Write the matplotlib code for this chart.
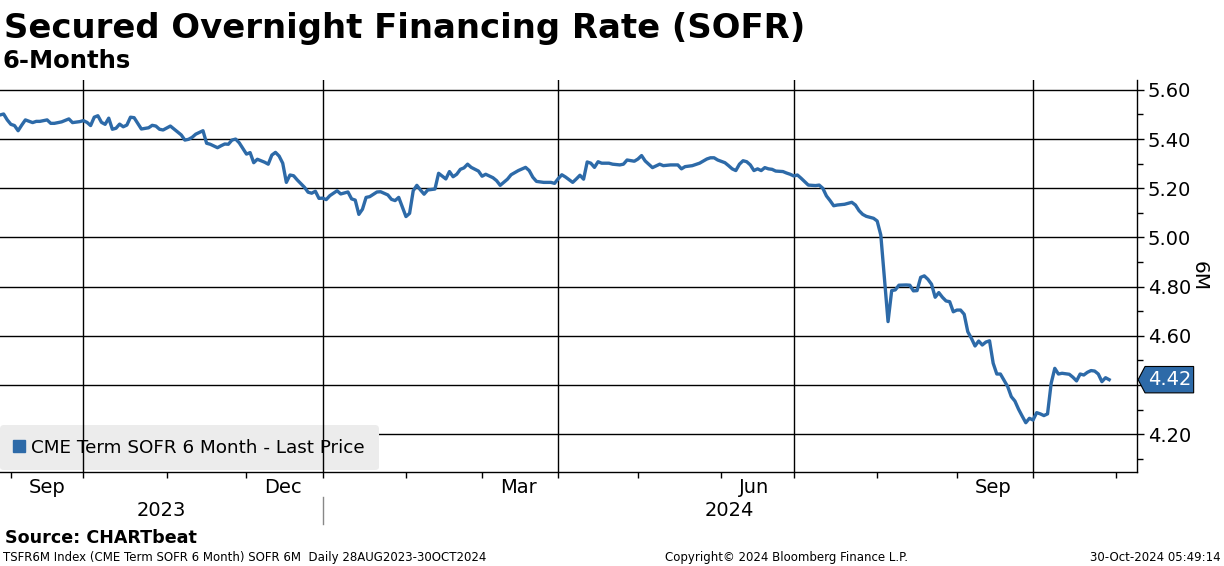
import numpy as np
import matplotlib
matplotlib.use("Agg")
import matplotlib.pyplot as plt
from matplotlib import transforms
from matplotlib.patches import Polygon
from matplotlib.lines import Line2D

# ---------------- data ----------------
dates = [
    "2023-08-28", "2023-08-29", "2023-08-30", "2023-08-31", "2023-09-01",
    "2023-09-04", "2023-09-05", "2023-09-06", "2023-09-07", "2023-09-11",
    "2023-09-12", "2023-09-13", "2023-09-15", "2023-09-18", "2023-09-19",
    "2023-09-21", "2023-09-25", "2023-09-26", "2023-09-28", "2023-09-29",
    "2023-10-02", "2023-10-03", "2023-10-04", "2023-10-05", "2023-10-06",
    "2023-10-09", "2023-10-10", "2023-10-11", "2023-10-12", "2023-10-13",
    "2023-10-16", "2023-10-17", "2023-10-18", "2023-10-19", "2023-10-20",
    "2023-10-23", "2023-10-25", "2023-10-26", "2023-10-27", "2023-10-30",
    "2023-10-31",
    "2023-11-02", "2023-11-03", "2023-11-07", "2023-11-08", "2023-11-09",
    "2023-11-10", "2023-11-13", "2023-11-15", "2023-11-16", "2023-11-17",
    "2023-11-21", "2023-11-22", "2023-11-23", "2023-11-24", "2023-11-27",
    "2023-11-28", "2023-11-29",
    "2023-12-01", "2023-12-04", "2023-12-05", "2023-12-06", "2023-12-08",
    "2023-12-11", "2023-12-12", "2023-12-13", "2023-12-14", "2023-12-15",
    "2023-12-18", "2023-12-19", "2023-12-20", "2023-12-21", "2023-12-25",
    "2023-12-26", "2023-12-27", "2023-12-28", "2023-12-29",
    "2024-01-01", "2024-01-02", "2024-01-03", "2024-01-05", "2024-01-08",
    "2024-01-10", "2024-01-11", "2024-01-12", "2024-01-15", "2024-01-16",
    "2024-01-17", "2024-01-18", "2024-01-22", "2024-01-23", "2024-01-25",
    "2024-01-26", "2024-01-29", "2024-01-30",
    "2024-02-01", "2024-02-02", "2024-02-05", "2024-02-06", "2024-02-07",
    "2024-02-08", "2024-02-09", "2024-02-13", "2024-02-14", "2024-02-16",
    "2024-02-19", "2024-02-20", "2024-02-21", "2024-02-22", "2024-02-23",
    "2024-02-26", "2024-02-27", "2024-02-29",
    "2024-03-01", "2024-03-04", "2024-03-06", "2024-03-07", "2024-03-08",
    "2024-03-12", "2024-03-13", "2024-03-15", "2024-03-19", "2024-03-20",
    "2024-03-21", "2024-03-22", "2024-03-26", "2024-03-28", "2024-03-29",
    "2024-04-01", "2024-04-02", "2024-04-03", "2024-04-05", "2024-04-08",
    "2024-04-09", "2024-04-10", "2024-04-11", "2024-04-12", "2024-04-15",
    "2024-04-16", "2024-04-17", "2024-04-19", "2024-04-22", "2024-04-24",
    "2024-04-25", "2024-04-26", "2024-04-30",
    "2024-05-01", "2024-05-02", "2024-05-03", "2024-05-07", "2024-05-09",
    "2024-05-10", "2024-05-14", "2024-05-16", "2024-05-17", "2024-05-20",
    "2024-05-22", "2024-05-24", "2024-05-28", "2024-05-29", "2024-05-30",
    "2024-05-31",
    "2024-06-04", "2024-06-05", "2024-06-06", "2024-06-07", "2024-06-10",
    "2024-06-11", "2024-06-12", "2024-06-13", "2024-06-14", "2024-06-17",
    "2024-06-18", "2024-06-19", "2024-06-20", "2024-06-21", "2024-06-24",
    "2024-06-26", "2024-06-27", "2024-06-28",
    "2024-07-01", "2024-07-02", "2024-07-03", "2024-07-04", "2024-07-05",
    "2024-07-09", "2024-07-10", "2024-07-11", "2024-07-12", "2024-07-15",
    "2024-07-16", "2024-07-17", "2024-07-19", "2024-07-22", "2024-07-23",
    "2024-07-24", "2024-07-25", "2024-07-26", "2024-07-29", "2024-07-31",
    "2024-08-01", "2024-08-02", "2024-08-05", "2024-08-06", "2024-08-07",
    "2024-08-08", "2024-08-09", "2024-08-13", "2024-08-14", "2024-08-15",
    "2024-08-16", "2024-08-19", "2024-08-20", "2024-08-21", "2024-08-22",
    "2024-08-23", "2024-08-26", "2024-08-27", "2024-08-28", "2024-08-29",
    "2024-08-30",
    "2024-09-02", "2024-09-03", "2024-09-04", "2024-09-05", "2024-09-06",
    "2024-09-09", "2024-09-10", "2024-09-11", "2024-09-12", "2024-09-13",
    "2024-09-16", "2024-09-17", "2024-09-18", "2024-09-20", "2024-09-23",
    "2024-09-24", "2024-09-25", "2024-09-26", "2024-09-27", "2024-09-30",
    "2024-10-01", "2024-10-02", "2024-10-03", "2024-10-04", "2024-10-07",
    "2024-10-08", "2024-10-09", "2024-10-10", "2024-10-11", "2024-10-15",
    "2024-10-16", "2024-10-17", "2024-10-18", "2024-10-21", "2024-10-22",
    "2024-10-23", "2024-10-24", "2024-10-25", "2024-10-28", "2024-10-29",
    "2024-10-30",
]

sofr_6m = [
    5.500, 5.498, 5.502, 5.478, 5.460,
    5.455, 5.434, 5.457, 5.478, 5.467,
    5.472, 5.472, 5.478, 5.464, 5.464,
    5.470, 5.482, 5.467, 5.471, 5.475,
    5.468, 5.455, 5.489, 5.495, 5.468,
    5.460, 5.485, 5.440, 5.444, 5.461,
    5.450, 5.457, 5.489, 5.487, 5.464,
    5.441, 5.446, 5.456, 5.453, 5.440,
    5.437,
    5.453, 5.441, 5.417, 5.396, 5.399,
    5.407, 5.420, 5.434, 5.383, 5.379,
    5.365, 5.373, 5.380, 5.379, 5.396,
    5.400, 5.385,
    5.339, 5.345, 5.304, 5.318, 5.306,
    5.298, 5.335, 5.346, 5.331, 5.302,
    5.224, 5.254, 5.251, 5.234, 5.204,
    5.184, 5.180, 5.188, 5.159,
    5.160, 5.154, 5.170, 5.190, 5.177,
    5.185, 5.157, 5.152, 5.094, 5.115,
    5.163, 5.166, 5.185, 5.186, 5.173,
    5.155, 5.150, 5.163,
    5.085, 5.098, 5.190, 5.212, 5.193,
    5.176, 5.193, 5.197, 5.261, 5.238,
    5.268, 5.247, 5.257, 5.277, 5.283,
    5.298, 5.285, 5.270,
    5.249, 5.257, 5.243, 5.231, 5.212,
    5.237, 5.255, 5.272, 5.285, 5.272,
    5.245, 5.228, 5.224, 5.224, 5.220,
    5.239, 5.255, 5.246, 5.224, 5.238,
    5.253, 5.237, 5.307, 5.302, 5.285,
    5.308, 5.302, 5.302, 5.298, 5.295,
    5.298, 5.315, 5.310,
    5.319, 5.333, 5.311, 5.284, 5.298,
    5.292, 5.295, 5.295, 5.279, 5.288,
    5.292, 5.302, 5.319, 5.324, 5.324,
    5.315,
    5.304, 5.292, 5.279, 5.272, 5.298,
    5.312, 5.308, 5.295, 5.272, 5.279,
    5.272, 5.284, 5.279, 5.277, 5.270,
    5.268, 5.262, 5.257,
    5.250, 5.254, 5.241, 5.227, 5.213,
    5.211, 5.213, 5.200, 5.169, 5.150,
    5.129, 5.132, 5.135, 5.139, 5.143,
    5.132, 5.109, 5.094, 5.086, 5.078,
    5.067, 5.010, 4.834, 4.658, 4.784,
    4.787, 4.806, 4.807, 4.806, 4.783,
    4.784, 4.838, 4.844, 4.830, 4.810,
    4.757, 4.776, 4.757, 4.742, 4.739,
    4.698,
    4.705, 4.705, 4.688, 4.617, 4.590,
    4.559, 4.579, 4.563, 4.575, 4.580,
    4.489, 4.445, 4.445, 4.394, 4.353,
    4.335, 4.302, 4.274, 4.247, 4.265,
    4.258, 4.288, 4.283, 4.276, 4.283,
    4.407, 4.468, 4.445, 4.448, 4.444,
    4.432, 4.417, 4.445, 4.441, 4.452,
    4.459, 4.457, 4.445, 4.414, 4.430,
    4.422,
]

y_ticks = [4.20, 4.40, 4.60, 4.80, 5.00, 5.20, 5.40, 5.60]
y_tick_labels = ["4.20", "", "4.60", "4.80", "5.00", "5.20", "5.40", "5.60"]  # 4.40 hidden under last-price tag
quarter_starts = ["2023-10-01", "2024-01-01", "2024-04-01", "2024-07-01", "2024-10-01"]
month_starts = ["2023-09-01", "2023-10-01", "2023-11-01", "2023-12-01", "2024-01-01",
                "2024-02-01", "2024-03-01", "2024-04-01", "2024-05-01", "2024-06-01",
                "2024-07-01", "2024-08-01", "2024-09-01", "2024-10-01", "2024-11-01"]
month_label_dates = ["2023-09-15", "2023-12-15", "2024-03-15", "2024-06-14", "2024-09-16"]
month_labels = ["Sep", "Dec", "Mar", "Jun", "Sep"]
year_labels = ["2023", "2024"]
year_break = "2024-01-01"

title = "Secured Overnight Financing Rate (SOFR)"
subtitle = "6-Months"
series_name = "CME Term SOFR 6 Month - Last Price"
source = "Source: CHARTbeat"
footer_left = "TSFR6M Index (CME Term SOFR 6 Month) SOFR 6M  Daily 28AUG2023-30OCT2024"
footer_mid = "Copyright\u00a9 2024 Bloomberg Finance L.P."
footer_right = "30-Oct-2024 05:49:14"

# ---------------- helpers: business-day axis ----------------
ORIGIN = "2023-10-02"


def bd(d):
    return np.busday_count(ORIGIN, np.array(d, dtype="datetime64[D]"))


x = bd(dates)
y = np.array(sofr_6m)

BLUE = "#2d6aa8"
FONT = "DejaVu Sans"
plt.rcParams["font.family"] = FONT

fig = plt.figure(figsize=(12.24, 5.66), dpi=100)
ax = fig.add_axes([0.0, 0.16608, 0.92868, 0.69258])

x_left, x_right = -24.0, 289.6
ax.set_xlim(x_left, x_right)
ax.set_ylim(4.0467, 5.6402)

# grid lines
for v in y_ticks:
    ax.axhline(v, color="black", lw=1.0, zorder=1)
for q in bd(quarter_starts):
    ax.axvline(q, color="black", lw=1.0, zorder=3)

ax.plot(x, y, color=BLUE, lw=2.4, zorder=4, solid_joinstyle="round",
        label=series_name)

# spines
for s in ["left", "top"]:
    ax.spines[s].set_visible(False)
ax.spines["right"].set_linewidth(1.0)
ax.spines["bottom"].set_linewidth(1.0)

# y axis on the right
ax.yaxis.tick_right()
ax.set_yticks(y_ticks)
ax.set_yticklabels(y_tick_labels)
ax.set_yticks(np.arange(4.1, 5.65, 0.2), minor=True)
ax.tick_params(axis="y", which="major", direction="out", length=5, width=1,
               pad=3, labelsize=14, left=False, right=True)
ax.tick_params(axis="y", which="minor", direction="out", length=4, width=1,
               left=False, right=True)
ax.set_ylabel("6M", rotation=270, fontsize=14.5)
ax.yaxis.set_label_position("right")
ax.yaxis.set_label_coords(1.0635, 0.5)

# x axis
ax.set_xticks(bd(month_starts))
ax.set_xticklabels([])
ax.set_xticks(bd(month_label_dates), minor=True)
ax.set_xticklabels(month_labels, minor=True)
ax.tick_params(axis="x", which="major", direction="out", length=4, width=1)
ax.tick_params(axis="x", which="minor", length=0, pad=4, labelsize=14)

# year labels and separator
xt = ax.get_xaxis_transform()
yb = bd(year_break)
ax.text((x_left + yb) / 2, -0.097, year_labels[0], transform=xt, ha="center",
        va="center", fontsize=14)
ax.text((yb + x_right) / 2, -0.097, year_labels[1], transform=xt, ha="center",
        va="center", fontsize=14)
ax.add_line(Line2D([yb, yb], [-0.064, -0.133], transform=xt, color="#888888",
                   lw=1.0, clip_on=False))

# legend
leg = ax.legend(handles=[Line2D([], [], marker="s", ls="none", color=BLUE,
                                markersize=8)],
                labels=[series_name], loc="lower left",
                bbox_to_anchor=(0.0, 0.004), fontsize=13.2, frameon=True,
                fancybox=True, facecolor="#ececec", edgecolor="none",
                framealpha=1.0, handlelength=0.6, handletextpad=0.35,
                borderpad=0.75, borderaxespad=0.0)
leg.set_zorder(2)

# last price tag
last = y[-1]
tag_tr = (transforms.Affine2D().scale(fig.dpi / 72.0)
          + transforms.ScaledTranslation(1.0, last, ax.get_yaxis_transform()))
tag = Polygon([(1, 0), (6, 9.5), (41, 9.5), (41, -9.5), (6, -9.5)], closed=True,
              transform=tag_tr, facecolor=BLUE, edgecolor="black", lw=0.8,
              clip_on=False, zorder=5)
ax.add_patch(tag)
ax.annotate(f"{last:.2f}", xy=(1.0, last), xycoords=ax.get_yaxis_transform(),
            xytext=(23.5, 0), textcoords="offset points", ha="center",
            va="center", color="white", fontsize=14, zorder=6,
            annotation_clip=False)

# titles and footers
W, H = 1224.0, 566.0
fig.text(4 / W, 1 - 38 / H, title, fontsize=24.4, fontweight="bold",
         va="baseline", ha="left")
fig.text(2 / W, 1 - 68 / H, subtitle, fontsize=17.5, fontweight="bold",
         va="baseline", ha="left")
fig.text(5 / W, 1 - 543 / H, source, fontsize=12.6, fontweight="bold",
         va="baseline", ha="left")
fig.text(3 / W, 1 - 561 / H, footer_left, fontsize=8.5, va="baseline", ha="left")
fig.text(786 / W, 1 - 561 / H, footer_mid, fontsize=8.5, va="baseline",
         ha="center")
fig.text(1221 / W, 1 - 561 / H, footer_right, fontsize=8.5, va="baseline",
         ha="right")

fig.savefig("out.png", dpi=100, facecolor="white")
